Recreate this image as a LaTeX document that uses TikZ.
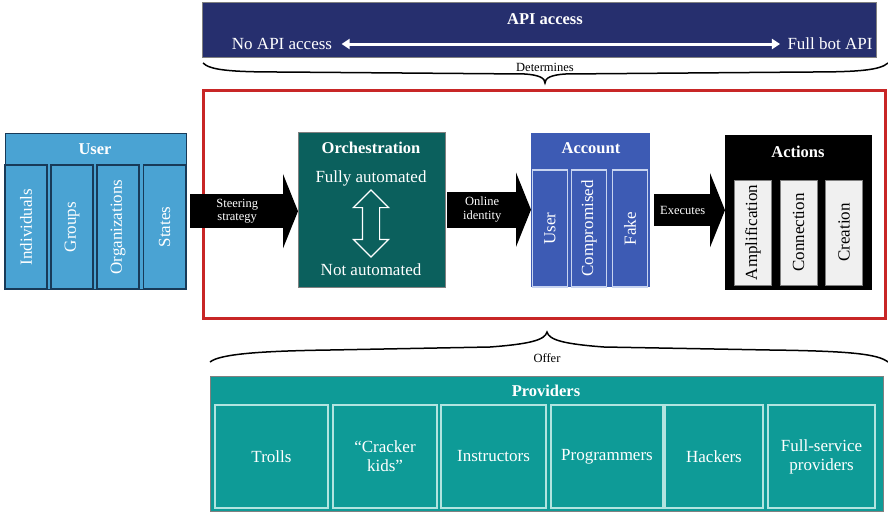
\documentclass[tikz,border=0pt]{standalone}
\usepackage{fontspec}
\setmainfont{Liberation Serif}
\usetikzlibrary{arrows.meta,shapes.arrows}
\definecolor{apinavy}{RGB}{38,47,110}
\definecolor{framered}{RGB}{200,38,38}
\definecolor{userblue}{RGB}{74,163,211}
\definecolor{userline}{RGB}{24,58,88}
\definecolor{orchteal}{RGB}{11,96,93}
\definecolor{acctblue}{RGB}{61,91,180}
\definecolor{acctline}{RGB}{200,212,240}
\definecolor{provteal}{RGB}{14,155,151}
\definecolor{provline}{RGB}{178,228,224}
\definecolor{actgrey}{RGB}{240,240,240}

\begin{document}
\begin{tikzpicture}[x=1pt,y=-1pt,
  big/.style={font=\fontsize{17}{19}\selectfont},
  small/.style={font=\fontsize{12.5}{13.5}\selectfont},
  head/.style={font=\fontsize{16.5}{18}\selectfont\bfseries,text=white},
  panel/.style={inner sep=0,anchor=north west},
  col/.style={inner sep=0,draw,line width=1.2pt},
  vlbl/.style={rotate=90,font=\fontsize{17}{19}\selectfont},
  blockarr/.style={line width=#1,-{Triangle[length=15pt,width=74pt]}},
  bracket/.style={line width=1.5pt}]
\useasboundingbox (0,0) rectangle (888,512);
% API access on top
\node[panel,fill=apinavy,draw=gray,minimum width=674pt,minimum height=55pt] (api) at (202,2) {};
\node[head] at (545,19) {API access};
\node[big,text=white] (noapi) at (282,44) {No API access};\node[big,text=white] (fullapi) at (830,44) {Full bot API};
\draw[white,line width=3pt,shorten <=6pt,shorten >=4pt,{Triangle[length=8pt,width=10pt]}-{Triangle[length=8pt,width=10pt]}] (noapi.east)--(fullapi.west);
\coordinate (tl) at (203,63);\coordinate (tr) at (888,63);\coordinate (ttip) at (545,83);
\draw[bracket] (tl) .. controls (210,70) and (230,72) .. (280,72) -- (525,74) .. controls (539,75) and (545,78) .. (ttip)
  .. controls (545,78) and (551,75) .. (565,74) -- (810,72) .. controls (860,72) and (880,70) .. (tr);
\node[small] at (545,67) {Determines};
% the red frame
\node[draw=framered,line width=3pt,minimum width=682pt,minimum height=228pt] (frame) at (544,204) {};
% user
\node[panel,fill=userblue,draw=userline,minimum width=181pt,minimum height=156pt] (user) at (5,133) {};
\node[head] at (95,149) {User};
\foreach \i/\x/\t in {1/26/Individuals,2/72/Groups,3/118/Organizations,4/164.5/States} {
\node[col,draw=userline,fill=userblue,minimum width=42pt,minimum height=124pt] (u\i) at (\x,227) {};\node[vlbl,text=white] at (u\i) {\t};}
% orchestration
\node[panel,fill=orchteal,draw=gray,minimum width=147pt,minimum height=155pt] (orch) at (298,132) {};
\node[head] at (371,148) {Orchestration};
\node[big,text=white] (fully) at (371,178) {Fully automated};\node[big,text=white] (notauto) at (371,270) {Not automated};
\node[double arrow,draw=white,line width=1.2pt,rotate=90,inner xsep=0pt,inner ysep=8pt,double arrow head extend=9pt,minimum height=67pt] (auto) at (371,223.5) {};
% account
\node[panel,fill=acctblue,minimum width=119pt,minimum height=154pt] (acct) at (531,133) {};
\node[head] at (591,148) {Account};
\foreach \i/\x/\t in {1/550/User,2/589/Compromised,3/630/Fake} {
\node[col,draw=acctline,fill=acctblue,minimum width=35pt,minimum height=117pt] (a\i) at (\x,228.5) {};\node[vlbl,text=white] at (a\i) {\t};}
% actions
\node[panel,fill=black,minimum width=147pt,minimum height=155pt] (act) at (725,135) {};
\node[head] at (798,152) {Actions};
\foreach \i/\x/\t in {1/753/Amplification,2/798.5/Connection,3/844/Creation} {
\node[col,draw=gray,fill=actgrey,line width=0.6pt,minimum width=37pt,minimum height=105pt] (c\i) at (\x,232.5) {};\node[vlbl] at (c\i) {\t};}
% block arrows
\draw[blockarr=34pt] ([xshift=4pt]user.east)--(user.east -| orch.west) node[midway,xshift=-7pt,small,text=white,align=center] {Steering\\strategy};
\draw[blockarr=36pt] ([xshift=2pt]orch.east)--(orch.east -| acct.west) node[midway,xshift=-7pt,small,text=white,align=center] {Online\\identity};
\draw[blockarr=32pt] ([xshift=4pt]acct.east)--(acct.east -| act.west) node[midway,xshift=-7pt,small,text=white] {Executes};
% providers
\coordinate (bl) at (210,362);\coordinate (br) at (888,362);\coordinate (btip) at (547,332);
\draw[bracket] (bl) .. controls (220,354) and (260,351) .. (330,350) -- (490,347) .. controls (530,344) and (545,340) .. (btip)
  .. controls (549,340) and (564,344) .. (604,347) -- (770,350) .. controls (850,351) and (878,354) .. (br);
\node[small] at (547,358) {Offer};
\node[panel,fill=provteal,draw=gray,minimum width=673pt,minimum height=135pt] (prov) at (210,376) {};
\node[head] at (546,391) {Providers};
\foreach \i/\a/\b/\t in {1/215/328/Trolls,2/333/437/{``Cracker\\kids''},3/441/546/Instructors,4/551/663/Programmers,5/665/763/Hackers,6/768/875/{Full-service\\providers}} {
\node[col,draw=provline,fill=provteal,minimum width=\b pt-\a pt,minimum height=103pt,big,text=white,align=center] (p\i) at ({(\a+\b)/2},456.5) {\t};}
\end{tikzpicture}
\end{document}
